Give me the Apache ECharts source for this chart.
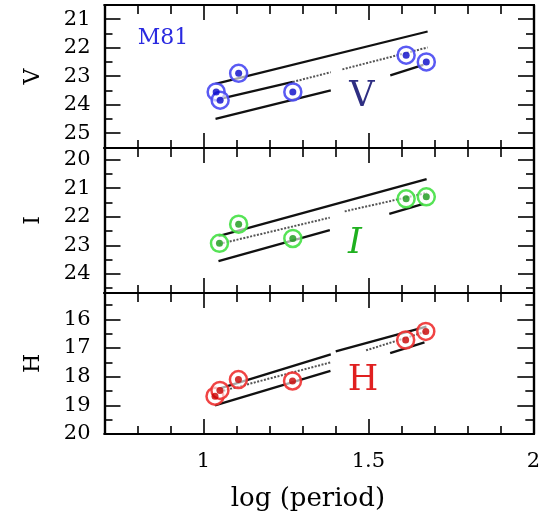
<!DOCTYPE html>
<html><head><meta charset="utf-8">
<script src="https://cdn.jsdelivr.net/npm/echarts@6/dist/echarts.min.js"></script>
<style>html,body{margin:0;padding:0;background:#fff}#c{width:543px;height:516px}</style>
</head><body><div id="c"></div>
<script>
// ---- axes ----
const xMin = 0.7, xMax = 2.0;
const xMajorTicks = [1, 1.5, 2];
const xMinorTicks = [0.8, 0.9, 1.1, 1.2, 1.3, 1.4, 1.6, 1.7, 1.8, 1.9];
const xTickLabels = ['1', '1.5', '2'];
const xTitle = 'log (period)';

const bands = ['V', 'I', 'H'];
const yRanges = [[20.5, 25.52], [19.59, 24.67], [15.08, 20]];
const yMajorTicks = [[21, 22, 23, 24, 25], [20, 21, 22, 23, 24], [16, 17, 18, 19, 20]];
const yMinorTicks = [[21.5, 22.5, 23.5, 24.5, 25.5], [20.5, 21.5, 22.5, 23.5, 24.5], [15.5, 16.5, 17.5, 18.5, 19.5]];

// ---- Cepheid data (log P, magnitude) ----
const logP_V = [1.038, 1.050, 1.106, 1.270, 1.613, 1.674];
const mag_V  = [23.55, 23.84, 22.90, 23.55, 22.26, 22.50];
const logP_I = [1.048, 1.106, 1.270, 1.613, 1.674];
const mag_I  = [22.93, 22.26, 22.76, 21.37, 21.30];
const logP_H = [1.035, 1.050, 1.106, 1.270, 1.613, 1.674];
const mag_H  = [18.68, 18.48, 18.10, 18.15, 16.72, 16.42];

// ---- PL relation segments (visible pieces) ----
const V_solid = [
  [[1.036, 23.27], [1.678, 21.43]],
  [[1.040, 23.82], [1.270, 23.20]],
  [[1.036, 24.50], [1.385, 23.50]],
  [[1.565, 22.97], [1.665, 22.60]]
];
const V_dotted = [
  [[1.270, 23.20], [1.385, 22.86]],
  [[1.420, 22.76], [1.678, 21.99]]
];
const I_solid = [
  [[1.045, 22.68], [1.675, 20.68]],
  [[1.045, 23.55], [1.382, 22.47]],
  [[1.562, 21.90], [1.665, 21.55]]
];
const I_dotted = [
  [[1.048, 22.95], [1.382, 22.03]],
  [[1.427, 21.81], [1.676, 21.16]]
];
const H_solid = [
  [[1.038, 18.45], [1.386, 17.22]],
  [[1.401, 17.12], [1.676, 16.25]],
  [[1.035, 19.00], [1.385, 17.80]],
  [[1.566, 17.18], [1.670, 16.80]]
];
const H_dotted = [
  [[1.050, 18.52], [1.386, 17.50]],
  [[1.493, 17.08], [1.676, 16.42]]
];

const galaxy = 'M81';
const panelLabels = ['V', 'I', 'H'];

// ---- build ----
const FONT = 'DejaVu Serif';
const panels = [
  {x: logP_V, y: mag_V, solid: V_solid, dotted: V_dotted, ring: '#4848f2', dot: '#0808c8'},
  {x: logP_I, y: mag_I, solid: I_solid, dotted: I_dotted, ring: '#44e044', dot: '#189818'},
  {x: logP_H, y: mag_H, solid: H_solid, dotted: H_dotted, ring: '#ee3030', dot: '#c80000'}
];
const gridPos = [
  {top: 5, height: 143},
  {top: 148, height: 145},
  {top: 293, height: 141}
];

const grids = gridPos.map(g => ({left: 104.5, right: 9, top: g.top, height: g.height}));
const xAxes = [], yAxes = [], series = [];

function xAx(gi, pos, ticks, len, withLabel) {
  const a = {
    type: 'value', gridIndex: gi, position: pos, min: xMin, max: xMax,
    axisLine: {show: true, onZero: false, lineStyle: {color: '#000', width: 2.2}},
    axisTick: {show: true, inside: true, length: len, customValues: ticks, lineStyle: {color: '#000', width: 1.6}},
    axisLabel: {show: false},
    splitLine: {show: false}
  };
  if (withLabel) {
    a.axisLabel = {show: true, customValues: xMajorTicks, showMinLabel: true, showMaxLabel: true,
      formatter: v => xTickLabels[xMajorTicks.indexOf(v)] ?? String(v),
      fontFamily: FONT, fontSize: 21, color: '#000', margin: 17};
    a.name = xTitle;
    a.nameLocation = 'middle';
    a.nameGap = 52;
    a.nameTextStyle = {fontFamily: FONT, fontSize: 26, color: '#000', padding: [0, 22, 0, 0]};
  }
  return a;
}
function yAx(gi, pos, ticks, len, withLabel) {
  const p = gi;
  const a = {
    type: 'value', gridIndex: gi, position: pos, inverse: true,
    min: yRanges[p][0], max: yRanges[p][1],
    axisLine: {show: true, onZero: false, lineStyle: {color: '#000', width: 2.2}},
    axisTick: {show: true, inside: true, length: len, customValues: ticks, lineStyle: {color: '#000', width: 1.6}},
    axisLabel: {show: false},
    splitLine: {show: false}
  };
  if (withLabel) {
    a.axisLabel = {show: true, customValues: yMajorTicks[p], showMinLabel: true, showMaxLabel: true,
      fontFamily: FONT, fontSize: 21, color: '#000', margin: 14};
    a.name = bands[p];
    a.nameLocation = 'middle';
    a.nameRotate = 90;
    a.nameGap = 60;
    a.nameTextStyle = {fontFamily: FONT, fontSize: 22, color: '#000'};
  }
  return a;
}

panels.forEach((P, p) => {
  xAxes.push(xAx(p, 'bottom', xMajorTicks, 15, p === 2));
  xAxes.push(xAx(p, 'bottom', xMinorTicks, 8, false));
  xAxes.push(xAx(p, 'top', xMajorTicks, 15, false));
  xAxes.push(xAx(p, 'top', xMinorTicks, 9, false));
  yAxes.push(yAx(p, 'left', yMajorTicks[p], 16, true));
  yAxes.push(yAx(p, 'left', yMinorTicks[p], 8, false));
  yAxes.push(yAx(p, 'right', yMajorTicks[p], 16, false));
  yAxes.push(yAx(p, 'right', yMinorTicks[p], 8, false));
  const xi = p * 4, yi = p * 4;
  P.solid.forEach(seg => series.push({
    type: 'line', xAxisIndex: xi, yAxisIndex: yi, data: seg, showSymbol: false, silent: true,
    lineStyle: {color: '#111', width: 2.3}, z: 2
  }));
  P.dotted.forEach(seg => series.push({
    type: 'line', xAxisIndex: xi, yAxisIndex: yi, data: seg, showSymbol: false, silent: true,
    lineStyle: {color: '#555', width: 2, type: [2, 1.5]}, z: 2
  }));
  const pts = P.x.map((v, i) => [v, P.y[i]]);
  series.push({
    type: 'scatter', xAxisIndex: xi, yAxisIndex: yi, data: pts, symbol: 'circle', symbolSize: 17,
    itemStyle: {color: 'rgba(255,255,255,0.7)', borderColor: P.ring, borderWidth: 2.5, opacity: 0.9}, z: 3
  });
  series.push({
    type: 'scatter', xAxisIndex: xi, yAxisIndex: yi, data: pts, symbol: 'circle', symbolSize: 7,
    itemStyle: {color: P.dot}, z: 4
  });
});

const chart = echarts.init(document.getElementById('c'), null, {renderer: 'canvas'});
chart.setOption({
  animation: false,
  backgroundColor: '#fff',
  grid: grids,
  xAxis: xAxes,
  yAxis: yAxes,
  series: series,
  graphic: [
    {type: 'text', x: 163, y: 38, style: {text: galaxy, align: 'center', verticalAlign: 'middle', fontFamily: FONT, fontSize: 22, fill: '#2a2ae0'}},
    {type: 'text', x: 362, y: 97, style: {text: panelLabels[0], align: 'center', verticalAlign: 'middle', fontFamily: FONT, fontSize: 35, fill: '#2e2e82'}},
    {type: 'text', x: 355, y: 244, style: {text: panelLabels[1], align: 'center', verticalAlign: 'middle', fontFamily: FONT, fontSize: 35, fontStyle: 'italic', fill: '#1fb01f'}},
    {type: 'text', x: 363, y: 381, style: {text: panelLabels[2], align: 'center', verticalAlign: 'middle', fontFamily: FONT, fontSize: 35, fill: '#e02020'}}
  ]
});
</script>
</body></html>
